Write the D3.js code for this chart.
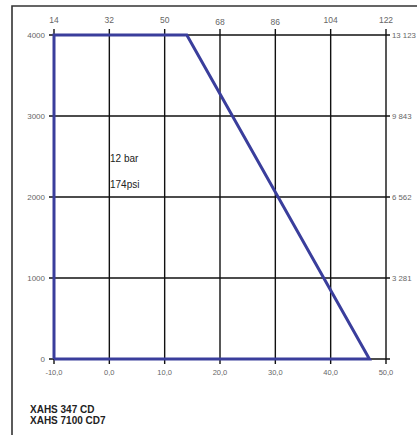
<!DOCTYPE html>
<html><head><meta charset="utf-8">
<script src="https://cdn.jsdelivr.net/npm/d3@7"></script>
<style>body{margin:0;background:#fff}svg{display:block}</style>
</head><body>
<script>
// Data
const xTicksC = [-10, 0, 10, 20, 30, 40, 50];           // °C ambient temperature
const xTickLabels = ["-10,0", "0,0", "10,0", "20,0", "30,0", "40,0", "50,0"];
const topTickLabels = ["14", "32", "50", "68", "86", "104", "122"]; // °F
const yTicksM = [0, 1000, 2000, 3000, 4000];            // altitude m
const yTickLabels = ["0", "1000", "2000", "3000", "4000"];
const rightTickLabels = ["", "3 281", "6 562", "9 843", "13 123"]; // ft
const envTemp = [-10, -10, 14, 47, -10];                // operating envelope
const envAlt = [0, 4000, 4000, 0, 0];
const notes = ["12 bar", "174psi"];
const models = ["XAHS 347 CD", "XAHS 7100 CD7"];

const W = 417, H = 435;
const svg = d3.select("body").append("svg").attr("width", W).attr("height", H);
const x = d3.scaleLinear().domain([-10, 50]).range([54, 386]);
const y = d3.scaleLinear().domain([0, 4000]).range([359, 35]);

// frame
svg.append("path").attr("d", `M12,${H} L12,6 L${W},6`).attr("fill", "none")
  .attr("stroke", "#333").attr("stroke-width", 1.6);

const font = "Liberation Sans, Arial, sans-serif";

// grid
svg.append("g").selectAll("line").data(xTicksC).join("line")
  .attr("x1", d => x(d)).attr("x2", d => x(d))
  .attr("y1", y(4000) - 6).attr("y2", y(0) + 5)
  .attr("stroke", "#111").attr("stroke-width", 1.4);
svg.append("g").selectAll("line").data(yTicksM).join("line")
  .attr("x1", x(-10) - 5).attr("x2", x(50) + 4)
  .attr("y1", d => y(d)).attr("y2", d => y(d))
  .attr("stroke", "#111").attr("stroke-width", 1.4);

// left labels
svg.append("g").selectAll("text").data(yTicksM).join("text")
  .attr("x", 45).attr("y", d => y(d) + 3)
  .attr("text-anchor", "end").attr("font-family", font).attr("font-size", 8)
  .attr("fill", "#666").text((d, i) => yTickLabels[i]);
// right labels
svg.append("g").selectAll("text").data(yTicksM).join("text")
  .attr("x", 392).attr("y", d => y(d) + 3)
  .attr("font-family", font).attr("font-size", 7.8)
  .attr("fill", "#666").text((d, i) => rightTickLabels[i]);
// bottom labels
svg.append("g").selectAll("text").data(xTicksC).join("text")
  .attr("x", d => x(d)).attr("y", 375)
  .attr("text-anchor", "middle").attr("font-family", font).attr("font-size", 7.5)
  .attr("fill", "#666").text((d, i) => xTickLabels[i]);
// top labels
svg.append("g").selectAll("text").data(xTicksC).join("text")
  .attr("x", d => x(d)).attr("y", (d, i) => (i === 3 || i === 4) ? 25 : 23)
  .attr("text-anchor", "middle").attr("font-family", font).attr("font-size", 8.5)
  .attr("fill", "#666").text((d, i) => topTickLabels[i]);

// envelope
const line = d3.line().x(d => x(d[0])).y(d => y(d[1]));
svg.append("path").datum(envTemp.map((t, i) => [t, envAlt[i]]))
  .attr("d", line).attr("fill", "none").attr("stroke", "#3a3e9c")
  .attr("stroke-width", 3).attr("stroke-linejoin", "miter");

// notes
svg.append("g").selectAll("text").data(notes).join("text")
  .attr("x", 110).attr("y", (d, i) => 162 + i * 26)
  .attr("font-family", font).attr("font-size", 10).attr("fill", "#222").text(d => d);

// models
svg.append("g").selectAll("text").data(models).join("text")
  .attr("x", 30).attr("y", (d, i) => 413 + i * 11)
  .attr("font-family", font).attr("font-size", 10).attr("font-weight", "bold")
  .attr("fill", "#222").text(d => d);
</script>
</body></html>
